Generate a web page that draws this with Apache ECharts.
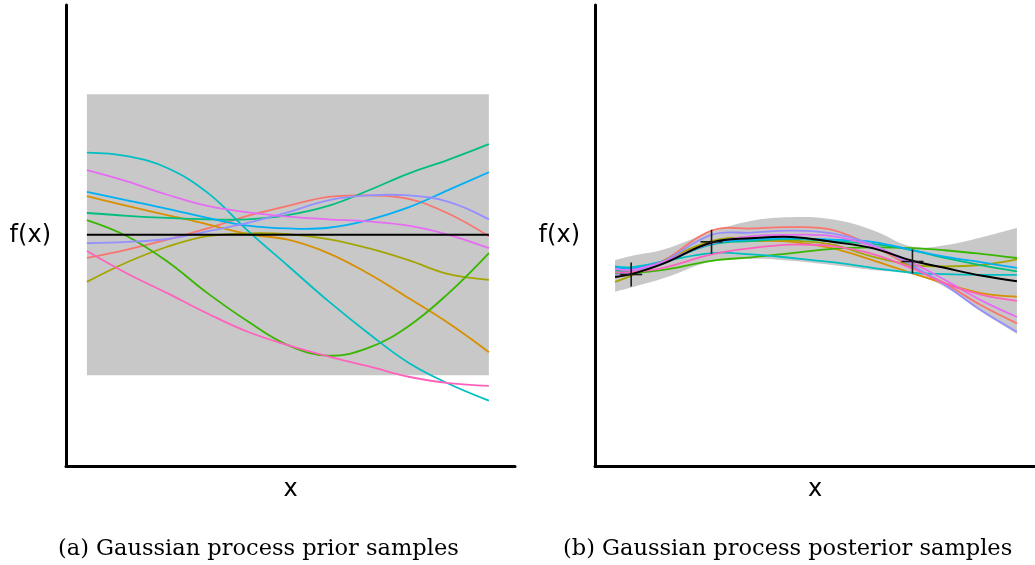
<!DOCTYPE html>
<html>
<head>
<meta charset="utf-8">
<title>Gaussian process samples</title>
<script src="https://cdn.jsdelivr.net/npm/echarts@6/dist/echarts.min.js"></script>
<style>
  html, body { margin: 0; padding: 0; background: #fff; }
  #chart { width: 1035px; height: 565px; }
</style>
</head>
<body>
<div id="chart"></div>
<script>
// ---- data: prior panel (a) ----
const priorX = [0, 1, 2, 3, 4, 5, 6, 7, 8, 9, 10];
const priorMean  = [0, 0, 0, 0, 0, 0, 0, 0, 0, 0, 0];
const priorLower = [-2, -2, -2, -2, -2, -2, -2, -2, -2, -2, -2];
const priorUpper = [2, 2, 2, 2, 2, 2, 2, 2, 2, 2, 2];
const priorRed     = [-0.33, -0.21, -0.07, 0.09, 0.27, 0.41, 0.54, 0.56, 0.51, 0.30, -0.02];
const priorOrange  = [0.55, 0.41, 0.28, 0.15, 0.01, -0.07, -0.26, -0.55, -0.90, -1.26, -1.67];
const priorOlive   = [-0.67, -0.39, -0.17, -0.02, 0.02, 0.01, -0.06, -0.19, -0.36, -0.56, -0.64];
const priorGreen   = [0.21, -0.02, -0.38, -0.83, -1.23, -1.57, -1.72, -1.61, -1.30, -0.83, -0.26];
const priorTeal    = [0.31, 0.27, 0.24, 0.22, 0.22, 0.28, 0.41, 0.63, 0.87, 1.07, 1.29];
const priorCyan    = [1.17, 1.12, 0.95, 0.60, 0.06, -0.44, -0.94, -1.40, -1.82, -2.12, -2.36];
const priorBlue    = [0.61, 0.49, 0.37, 0.24, 0.13, 0.09, 0.10, 0.21, 0.39, 0.64, 0.89];
const priorPurple  = [-0.12, -0.10, -0.06, 0.05, 0.17, 0.32, 0.49, 0.56, 0.56, 0.47, 0.22];
const priorMagenta = [0.92, 0.76, 0.57, 0.41, 0.32, 0.26, 0.22, 0.19, 0.13, 0.00, -0.19];
const priorPink    = [-0.23, -0.55, -0.83, -1.12, -1.38, -1.57, -1.73, -1.87, -2.02, -2.11, -2.15];

// ---- data: posterior panel (b) ----
const postX = [0, 0.4, 1.2, 2.4, 3.4, 4.4, 5.4, 6.4, 7.4, 8.2, 9.1, 10];
const postMean    = [-0.60, -0.56, -0.41, -0.11, -0.05, -0.03, -0.10, -0.19, -0.37, -0.47, -0.58, -0.66];
const postLower   = [-0.81, -0.75, -0.62, -0.38, -0.34, -0.37, -0.43, -0.50, -0.56, -0.74, -1.09, -1.41];
const postUpper   = [-0.36, -0.30, -0.21, 0.04, 0.20, 0.25, 0.22, 0.07, -0.17, -0.15, -0.04, 0.10];
const postRed     = [-0.61, -0.54, -0.37, 0.06, 0.09, 0.11, 0.07, -0.16, -0.46, -0.69, -1.00, -1.26];
const postOrange  = [-0.57, -0.54, -0.40, -0.11, -0.09, -0.10, -0.19, -0.36, -0.55, -0.69, -0.83, -0.88];
const postOlive   = [-0.67, -0.58, -0.37, -0.09, -0.04, -0.08, -0.14, -0.31, -0.43, -0.45, -0.43, -0.35];
const postGreen   = [-0.56, -0.55, -0.50, -0.37, -0.32, -0.26, -0.20, -0.18, -0.19, -0.22, -0.27, -0.33];
const postTeal    = [-0.51, -0.51, -0.38, -0.14, -0.09, -0.06, -0.09, -0.13, -0.22, -0.33, -0.43, -0.52];
const postCyan    = [-0.45, -0.46, -0.38, -0.26, -0.28, -0.33, -0.39, -0.47, -0.54, -0.56, -0.57, -0.57];
const postBlue    = [-0.46, -0.48, -0.39, -0.13, -0.07, -0.05, -0.07, -0.10, -0.22, -0.31, -0.39, -0.47];
const postPurple  = [-0.57, -0.53, -0.38, 0.00, 0.03, 0.06, 0.02, -0.14, -0.44, -0.71, -1.07, -1.38];
const postMagenta = [-0.48, -0.50, -0.38, -0.12, -0.02, 0.00, -0.02, -0.16, -0.40, -0.64, -0.93, -1.17];
const postPink    = [-0.53, -0.53, -0.47, -0.28, -0.19, -0.14, -0.16, -0.27, -0.48, -0.69, -0.85, -0.94];

// observed points
const obsX = [0.4, 2.4, 7.4];
const obsY = [-0.565, -0.10, -0.38];

const sampleColors = ['#F8766D', '#D89000', '#A3A500', '#39B600', '#00BF7D',
                      '#00BFC4', '#00B0F6', '#9590FF', '#E76BF3', '#FF62BC'];
const priorSamples = [priorRed, priorOrange, priorOlive, priorGreen, priorTeal,
                      priorCyan, priorBlue, priorPurple, priorMagenta, priorPink];
const postSamples = [postRed, postOrange, postOlive, postGreen, postTeal,
                     postCyan, postBlue, postPurple, postMagenta, postPink];

const captions = ['(a) Gaussian process prior samples', '(b) Gaussian process posterior samples'];

const bandGrey = '#C8C8C8';
const SMOOTH = 0.4;

// grey band: polygon upper edge -> lower edge, corners doubled so they stay sharp
function bandSeries(idx, xs, lower, upper) {
  return {
    type: 'custom', xAxisIndex: idx, yAxisIndex: idx, silent: true, z: 1,
    data: [[xs[0], lower[0]]],
    renderItem: function (params, api) {
      const up = xs.map((x, i) => api.coord([x, upper[i]]));
      const low = xs.map((x, i) => api.coord([x, lower[i]])).reverse();
      const pts = [];
      [up, low].forEach(edge => {
        edge.forEach((p, i) => {
          pts.push(p);
          if (i === 0 || i === edge.length - 1) pts.push([p[0], p[1]]);
        });
      });
      return {
        type: 'polygon',
        shape: { points: pts, smooth: SMOOTH },
        style: { fill: bandGrey, stroke: null }
      };
    }
  };
}

// one smooth polyline per curve
function curveSeries(idx, xs, curves, colors, width, z) {
  return {
    type: 'custom', xAxisIndex: idx, yAxisIndex: idx, silent: true, z: z,
    data: curves.map((ys, k) => [xs[0], ys[0]]),
    renderItem: function (params, api) {
      const ys = curves[params.dataIndex];
      return {
        type: 'polyline',
        shape: { points: xs.map((x, i) => api.coord([x, ys[i]])), smooth: SMOOTH },
        style: { stroke: colors[params.dataIndex], lineWidth: width, fill: null }
      };
    }
  };
}

// observations drawn as "+" crosses
function obsSeries() {
  return {
    type: 'custom', xAxisIndex: 1, yAxisIndex: 1, data: obsX.map((x, i) => [x, obsY[i]]),
    silent: true, z: 4,
    renderItem: function (params, api) {
      const p = api.coord([api.value(0), api.value(1)]);
      const style = { stroke: '#1a1a1a', lineWidth: 1.6 };
      return {
        type: 'group',
        children: [
          { type: 'line', shape: { x1: p[0], y1: p[1] - 12, x2: p[0], y2: p[1] + 12 }, style: style },
          { type: 'line', shape: { x1: p[0] - 11, y1: p[1], x2: p[0] + 11, y2: p[1] }, style: style }
        ]
      };
    }
  };
}

const axisLine = { show: true, onZero: false, lineStyle: { color: '#000', width: 3 } };
const nameFont = { fontFamily: 'DejaVu Sans', fontSize: 24, color: '#000' };

function xAxis(idx, min, max) {
  return {
    type: 'value', gridIndex: idx, min: min, max: max, z: 10,
    axisLine: axisLine, axisTick: { show: false }, axisLabel: { show: false },
    splitLine: { show: false },
    name: 'x', nameLocation: 'middle', nameGap: 12, nameTextStyle: nameFont
  };
}

function yAxis(idx) {
  return {
    type: 'value', gridIndex: idx, min: -3.29, max: 3.27, z: 10,
    axisLine: axisLine, axisTick: { show: false }, axisLabel: { show: false },
    splitLine: { show: false },
    name: 'f(x)', nameLocation: 'middle', nameRotate: 0, nameGap: 15,
    nameTextStyle: nameFont
  };
}

const captionStyle = { fontFamily: 'DejaVu Serif', fontSize: 22.5, fontWeight: 'normal', color: '#000' };

const chart = echarts.init(document.getElementById('chart'));
chart.setOption({
  animation: false,
  backgroundColor: '#fff',
  title: [
    { text: captions[0], left: 58, top: 538, padding: 0, textStyle: captionStyle },
    { text: captions[1], left: 563, top: 538, padding: 0, textStyle: captionStyle }
  ],
  grid: [
    { left: 66, right: 520, top: 5, bottom: 99 },
    { left: 595, right: 0, top: 5, bottom: 99 }
  ],
  xAxis: [xAxis(0, -0.52, 10.65), xAxis(1, -0.5, 10.45)],
  yAxis: [yAxis(0), yAxis(1)],
  series: [
    bandSeries(0, priorX, priorLower, priorUpper),
    curveSeries(0, priorX, priorSamples, sampleColors, 1.8, 2),
    curveSeries(0, priorX, [priorMean], ['#000'], 2, 3),
    bandSeries(1, postX, postLower, postUpper),
    curveSeries(1, postX, postSamples, sampleColors, 1.8, 2),
    curveSeries(1, postX, [postMean], ['#000'], 2, 3),
    obsSeries()
  ]
});
</script>
</body>
</html>
